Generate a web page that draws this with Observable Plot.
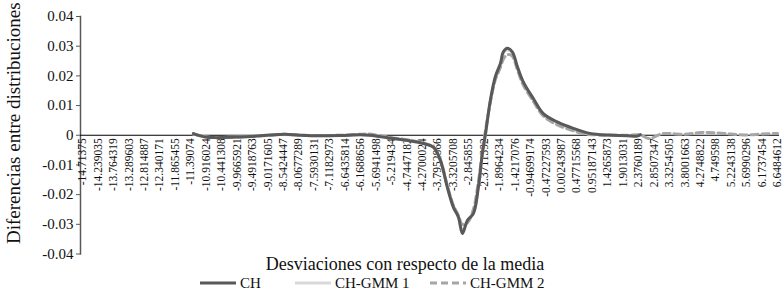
<!DOCTYPE html>
<html>
<head>
<meta charset="utf-8">
<script src="https://cdn.jsdelivr.net/npm/d3@7"></script>
<script src="https://cdn.jsdelivr.net/npm/@observablehq/plot@0.6"></script>
<style>
  html, body { margin: 0; padding: 0; background: white; }
  #wrap { width: 783px; height: 290px; position: relative; font-family: 'Liberation Serif', 'Times New Roman', serif; }
  #legend { position: absolute; left: 0; top: 276px; width: 783px; height: 14px; font-size: 15px; color: #111; }
  #legend .item { position: absolute; top: 0; display: flex; align-items: center; height: 14px; }
  #legend svg { margin-right: 4px; }
</style>
</head>
<body>
<div id="wrap">
  <div id="chart"></div>
  <div id="legend"></div>
</div>
<script>
// ---- data ----
const xTickLabels = ["-14.71375","-14.239035","-13.764319","-13.289603","-12.814887","-12.340171","-11.865455","-11.39074","-10.916024","-10.441308","-9.9665921","-9.4918763","-9.0171605","-8.5424447","-8.0677289","-7.5930131","-7.1182973","-6.6435814","-6.1688656","-5.6941498","-5.219434","-4.7447182","-4.2700024","-3.7952866","-3.3205708","-2.845855","-2.3711392","-1.8964234","-1.4217076","-0.94699174","-0.47227593","0.00243987","0.47715568","0.95187143","1.4265873","1.9013031","2.3760189","2.8507347","3.3254505","3.8001663","4.2748822","4.749598","5.2243138","5.6990296","6.1737454","6.6484612"];
const yTicks = [-0.04, -0.03, -0.02, -0.01, 0, 0.01, 0.02, 0.03, 0.04];
const seriesNames = ["CH", "CH-GMM 1", "CH-GMM 2"];

const chX = [-11.305,-11.087,-10.873,-10.627,-10.166,-9.706,-9.245,-8.785,-8.476,-8.016,-7.403,-6.786,-6.169,-5.884,-5.552,-5.172,-4.650,-4.237,-3.928,-3.714,-3.501,-3.316,-3.159,-3.036,-2.884,-2.699,-2.547,-2.423,-2.333,-2.177,-2.025,-1.868,-1.778,-1.655,-1.503,-1.346,-1.166,-0.857,-0.549,-0.121,0.372,0.804,1.203,1.602,2.034,2.338,2.433];
const chY = [0.00057,-0.0002,-0.0007,-0.0008,-0.0007,-0.0005,-0.0002,0.0002,0.0003,0.0000,-0.0002,-0.0001,0.00013,0.0000,-0.0005,-0.0011,-0.0019,-0.0028,-0.0040,-0.0084,-0.0175,-0.0242,-0.0276,-0.0331,-0.0287,-0.0264,-0.0176,-0.0061,0.0000,0.0118,0.0197,0.0242,0.0281,0.0293,0.0281,0.0231,0.0180,0.0124,0.0073,0.0045,0.0023,0.0008,0.0002,0.0000,-0.0002,-0.0003,0.0002];

const gmm1X = [-11.305,-10.873,-10.627,-10.166,-9.706,-9.245,-8.785,-8.016,-7.403,-6.786,-6.169,-5.552,-5.172,-4.650,-4.237,-3.928,-3.714,-3.501,-3.316,-3.159,-3.036,-2.884,-2.699,-2.547,-2.423,-2.333,-2.177,-2.025,-1.868,-1.778,-1.655,-1.503,-1.346,-1.166,-0.857,-0.549,-0.121,0.372,0.804,1.203,1.602,2.034,2.433];
const gmm1Y = [0.0004,-0.0007,-0.0008,-0.0007,-0.0005,-0.0002,0.0002,0.0000,-0.0002,0.0000,0.0002,-0.0004,-0.0010,-0.0018,-0.0027,-0.0039,-0.0082,-0.0170,-0.0238,-0.0272,-0.0320,-0.0290,-0.0260,-0.0172,-0.0060,0.0000,0.0115,0.0192,0.0238,0.0276,0.0287,0.0278,0.0228,0.0176,0.0120,0.0070,0.0042,0.0020,0.0006,0.0002,0.0000,-0.0001,0.0001];

const gmm2X = [-11.3,-10.9,-10.6,-10.2,-9.7,-9.2,-8.8,-8.5,-8.0,-7.4,-6.8,-6.2,-5.9,-5.55,-5.17,-4.65,-4.24,-3.93,-3.71,-3.50,-3.32,-3.16,-3.04,-2.88,-2.70,-2.55,-2.42,-2.35,-2.18,-2.03,-1.87,-1.75,-1.62,-1.50,-1.35,-1.17,-0.86,-0.55,-0.12,0.37,0.80,1.20,1.60,2.03,2.43,2.70,3.10,3.33,3.80,4.27,4.75,5.22,5.70,6.17,6.65];
const gmm2Y = [0.0004,-0.0006,-0.0008,-0.0007,-0.0005,-0.0002,0.0002,0.0003,0.0000,-0.0001,0.0000,0.0003,0.0004,-0.0002,-0.0009,-0.0017,-0.0026,-0.0040,-0.0085,-0.0170,-0.0235,-0.0270,-0.0300,-0.0295,-0.0250,-0.0160,-0.0055,0.0000,0.0110,0.0185,0.0228,0.0262,0.0272,0.0266,0.0222,0.0170,0.0115,0.0065,0.0035,0.0015,0.0003,0.0001,0.0000,0.0000,0.0001,-0.0011,0.0005,0.0006,0.0003,0.0009,0.0008,0.0004,0.0001,0.0004,0.0006];

const xTitle = "Desviaciones con respecto de la media";
const yTitle = "Diferencias entre distribuciones";

// ---- build ----
const serif = "'Liberation Serif', 'Times New Roman', serif";
const toRows = (xs, ys) => xs.map((x, i) => ({x, y: ys[i]}));
const ch = toRows(chX, chY), g1 = toRows(gmm1X, gmm1Y), g2 = toRows(gmm2X, gmm2Y);
const colors = {"CH": "#595959", "CH-GMM 1": "#d9d9d9", "CH-GMM 2": "#a6a6a6"};

const chart = Plot.plot({
  width: 783, height: 276,
  marginLeft: 80, marginRight: 4, insetLeft: 2, insetRight: 2,
  marginTop: 16, marginBottom: 22.5,
  style: {fontFamily: serif, background: "white", color: "black", overflow: "visible"},
  x: {domain: [+xTickLabels[0], +xTickLabels[xTickLabels.length - 1]], axis: null},
  y: {domain: [-0.04, 0.04], axis: null},
  marks: [
    Plot.axisY({ticks: yTicks, tickFormat: d => d === 0 ? "0" : d.toFixed(2), tickSize: 4, tickPadding: 3, fontSize: 15, fontFamily: serif, fill: "#111", label: null, stroke: "#595959"}),
    Plot.frame({anchor: "left", stroke: "#595959", strokeWidth: 1.5}),
    Plot.ruleY([0], {stroke: "black", strokeWidth: 1.2}),
    Plot.text(xTickLabels, {x: d => +d, y: () => 0, text: d => d, rotate: -90, textAnchor: "end", dy: 3, fontSize: 11.5, fontFamily: serif, fill: "#111"}),
    Plot.line(g1, {x: "x", y: "y", stroke: colors["CH-GMM 1"], strokeWidth: 3, curve: "catmull-rom"}),
    Plot.line(g2, {x: "x", y: "y", stroke: colors["CH-GMM 2"], strokeWidth: 3, strokeDasharray: "7,4", curve: "catmull-rom"}),
    Plot.line(ch, {x: "x", y: "y", stroke: colors["CH"], strokeWidth: 3, curve: "catmull-rom"}),
    Plot.text([xTitle], {frameAnchor: "bottom", dx: -25, dy: 16, fontSize: 18, fontFamily: serif, fill: "#111"}),
    Plot.text([yTitle], {frameAnchor: "left", rotate: -90, textAnchor: "middle", dx: -67, dy: -12, fontSize: 19, fontFamily: serif, fill: "#111"})
  ]
});
document.getElementById("chart").appendChild(chart);

// ---- legend ----
const legendPos = {"CH": 200, "CH-GMM 1": 295, "CH-GMM 2": 430};
const legend = document.getElementById("legend");
for (const name of seriesNames) {
  const item = document.createElement("div");
  item.className = "item";
  item.style.left = legendPos[name] + "px";
  const dash = name === "CH-GMM 2" ? 'stroke-dasharray="7,4"' : "";
  item.innerHTML = `<svg width="36" height="6"><line x1="0" y1="3" x2="36" y2="3" stroke="${colors[name]}" stroke-width="3" ${dash}/></svg><span>${name}</span>`;
  legend.appendChild(item);
}
</script>
</body>
</html>
